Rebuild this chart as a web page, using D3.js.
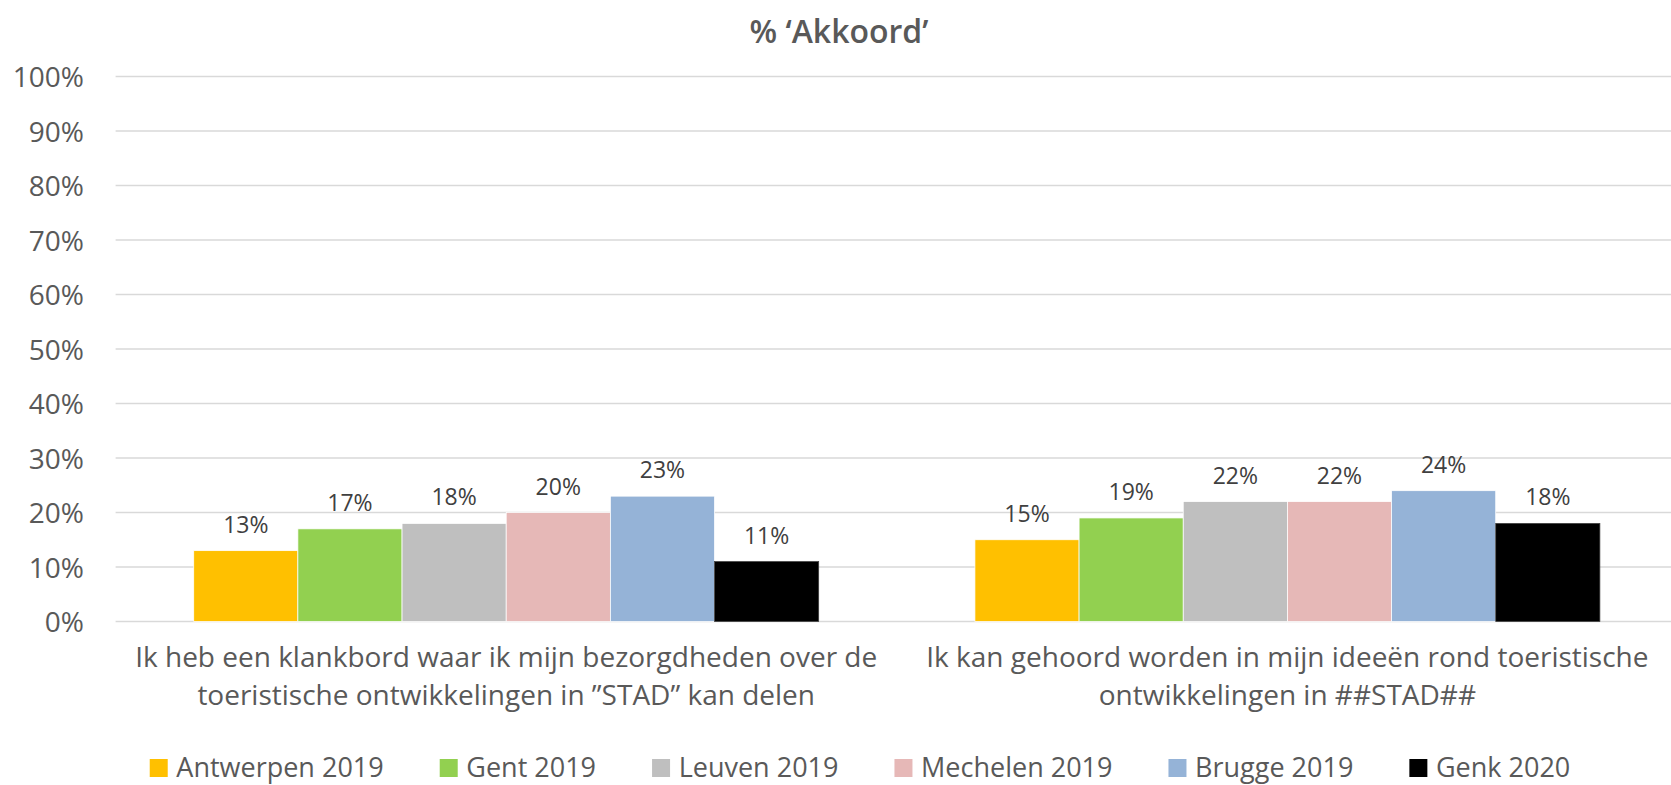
<!DOCTYPE html>
<html>
<head>
<meta charset="utf-8">
<script src="https://cdn.jsdelivr.net/npm/d3@7"></script>
<style>
  html, body { margin: 0; padding: 0; background: #fff; }
  svg { display: block; font-family: "Open Sans", sans-serif; }
</style>
</head>
<body>
<svg id="chart" width="1671" height="785"></svg>
<script>
// ---- Data ----
const categories = [
  ["Ik heb een klankbord waar ik mijn bezorgdheden over de", "toeristische ontwikkelingen in ”STAD” kan delen"],
  ["Ik kan gehoord worden in mijn ideeën rond toeristische", "ontwikkelingen in ##STAD##"]
];
const seriesNames = ["Antwerpen 2019", "Gent 2019", "Leuven 2019", "Mechelen 2019", "Brugge 2019", "Genk 2020"];
const seriesColors = ["#FFC000", "#92D050", "#BFBFBF", "#E6B8B7", "#95B3D7", "#000000"];
const antwerpen = [13, 15];
const gent      = [17, 19];
const leuven    = [18, 22];
const mechelen  = [20, 22];
const brugge    = [23, 24];
const genk      = [11, 18];
const seriesValues = [antwerpen, gent, leuven, mechelen, brugge, genk];
const yTicks = [0, 10, 20, 30, 40, 50, 60, 70, 80, 90, 100];
const title = "% ‘Akkoord’";

// ---- Layout ----
const svg = d3.select("#chart");
const plotLeft = 115.6, plotRight = 1678, plotTop = 76.5, plotBottom = 621.5;

const x0 = d3.scaleBand().domain(d3.range(categories.length)).range([plotLeft, plotRight]).paddingInner(0).paddingOuter(0);
const groupPad = 0.2; // gap = 1.5 bar widths
const x1 = d3.scaleBand().domain(d3.range(seriesNames.length))
  .range([x0.bandwidth() * groupPad / 2, x0.bandwidth() * (1 - groupPad / 2)]).padding(0);
const y = d3.scaleLinear().domain([0, 100]).range([plotBottom, plotTop]);

// Axis labels
const yAxis = d3.axisLeft(y).tickValues(yTicks).tickFormat(d => d + "%").tickSize(0).tickPadding(0);
const gAxis = svg.append("g").attr("transform", `translate(84,0)`).call(yAxis);
gAxis.select(".domain").remove();
gAxis.selectAll("text").attr("font-size", 28).attr("fill", "#595959")
  .attr("font-family", "Open Sans").attr("dy", "0.36em");

// Gridlines
svg.append("g").selectAll("line").data(yTicks).join("line")
  .attr("x1", plotLeft).attr("x2", 1671)
  .attr("y1", d => y(d)).attr("y2", d => y(d))
  .attr("stroke", "#d9d9d9").attr("stroke-width", 1.6);

// Bars
const groups = svg.append("g").selectAll("g").data(categories).join("g")
  .attr("transform", (d, i) => `translate(${x0(i)},0)`);

groups.each(function(cat, ci) {
  const g = d3.select(this);
  const vals = seriesValues.map((s, si) => ({ si, v: s[ci] }));
  g.selectAll("rect").data(vals).join("rect")
    .attr("x", d => x1(d.si)).attr("width", x1.bandwidth())
    .attr("y", d => y(d.v)).attr("height", d => y(0) - y(d.v))
    .attr("fill", d => seriesColors[d.si])
    .attr("stroke", d => d.si === 5 ? "#404040" : "#ffffff").attr("stroke-width", 0.75);
  g.selectAll("text.val").data(vals).join("text").attr("class", "val")
    .attr("x", d => x1(d.si) + x1.bandwidth() / 2)
    .attr("y", d => y(d.v) - 18)
    .attr("text-anchor", "middle").attr("font-size", 23).attr("fill", "#404040")
    .text(d => d.v + "%");
  // category label, two lines
  cat.forEach((line, li) => {
    g.append("text").attr("text-anchor", "middle").attr("font-size", 28).attr("fill", "#595959")
      .attr("x", x0.bandwidth() / 2).attr("y", 666.5 + li * 38.4).text(line);
  });
});

// Title
svg.append("text").attr("x", 839).attr("y", 43).attr("text-anchor", "middle")
  .attr("font-size", 32).attr("font-weight", 600).attr("fill", "#595959").text(title);

// Legend
const legend = svg.append("g");
const items = legend.selectAll("g").data(seriesNames).join("g");
items.append("rect").attr("width", 18).attr("height", 18).attr("y", 759)
  .attr("fill", (d, i) => seriesColors[i]);
items.append("text").attr("x", 26.6).attr("y", 777).attr("font-size", 27).attr("fill", "#595959").text(d => d);
let widths = [];
items.each(function() { widths.push(this.getBBox().width); });
const gap = 56;
const total = d3.sum(widths) + gap * (widths.length - 1);
let cx = 860 - total / 2;
items.each(function(d, i) {
  d3.select(this).attr("transform", `translate(${cx},0)`);
  cx += widths[i] + gap;
});
</script>
</body>
</html>
